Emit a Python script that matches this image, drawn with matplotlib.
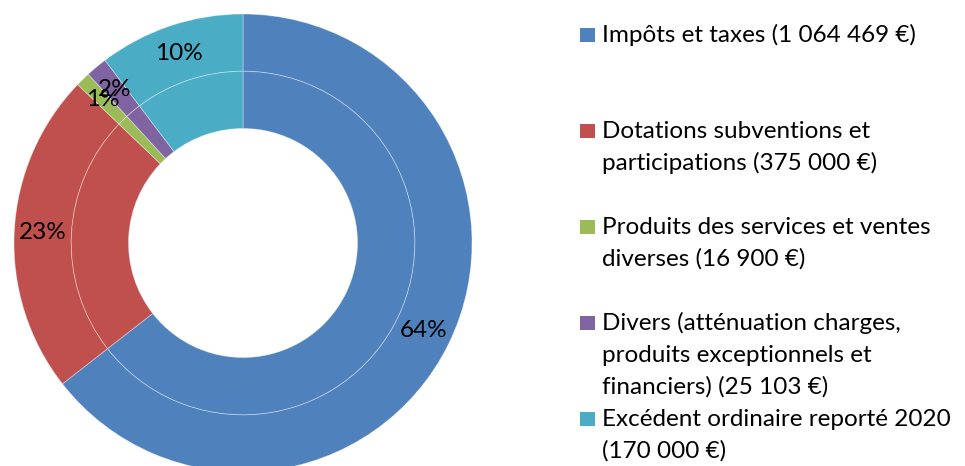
import matplotlib
matplotlib.use("Agg")
import matplotlib.pyplot as plt
from matplotlib.patches import Rectangle

# recettes de fonctionnement
labels = [
    "Impôts et taxes (1 064 469 €)",
    "Dotations subventions et\nparticipations (375 000 €)",
    "Produits des services et ventes\ndiverses (16 900 €)",
    "Divers (atténuation charges,\nproduits exceptionnels et\nfinanciers) (25 103 €)",
    "Excédent ordinaire reporté 2020\n(170 000 €)",
]
values = [1064469, 375000, 16900, 25103, 170000]
colors = ["#4F81BD", "#C0504D", "#9BBB59", "#8064A2", "#4BACC6"]

W, H = 965, 466
plt.rcParams['font.family'] = ['Lato', 'DejaVu Sans']
FS = 17.5

fig = plt.figure(figsize=(W / 100, H / 100), dpi=100)

# axes placed so the ring centre sits at (243, 243) px, radius ~229 px
cx, cy, r = 243, 243, 229
ax = fig.add_axes([(cx - r) / W, (H - cy - r) / H, 2 * r / W, 2 * r / H])

edge = dict(edgecolor=(1, 1, 1, 0.4), linewidth=0.6)

# outer ring, with the percentages
wedges, _, autotexts = ax.pie(values, colors=colors, radius=1.0, startangle=90,
                              counterclock=False, autopct='%1.0f%%',
                              pctdistance=0.875,
                              wedgeprops=dict(width=0.25, **edge),
                              textprops=dict(fontsize=FS, color='black'))
# inner ring, same series
ax.pie(values, colors=colors, radius=0.75, startangle=90, counterclock=False,
       wedgeprops=dict(width=0.25, **edge))
ax.set_xlim(-1, 1)
ax.set_ylim(-1, 1)
ax.set_aspect('equal')
ax.axis('off')

# legend drawn by hand, Excel style (fixed spacing between entries)
for i, (lab, c) in enumerate(zip(labels, colors)):
    base = 42 + 96 * i
    fig.patches.append(Rectangle((580 / W, (H - base) / H), 15 / W, 14 / H,
                                 transform=fig.transFigure, facecolor=c,
                                 edgecolor='none'))
    for j, line in enumerate(lab.split("\n")):
        fig.text(602 / W, (H - base - 32 * j) / H, line, fontsize=FS,
                 va='baseline', ha='left', color='black')

fig.savefig("out.png", dpi=100)
